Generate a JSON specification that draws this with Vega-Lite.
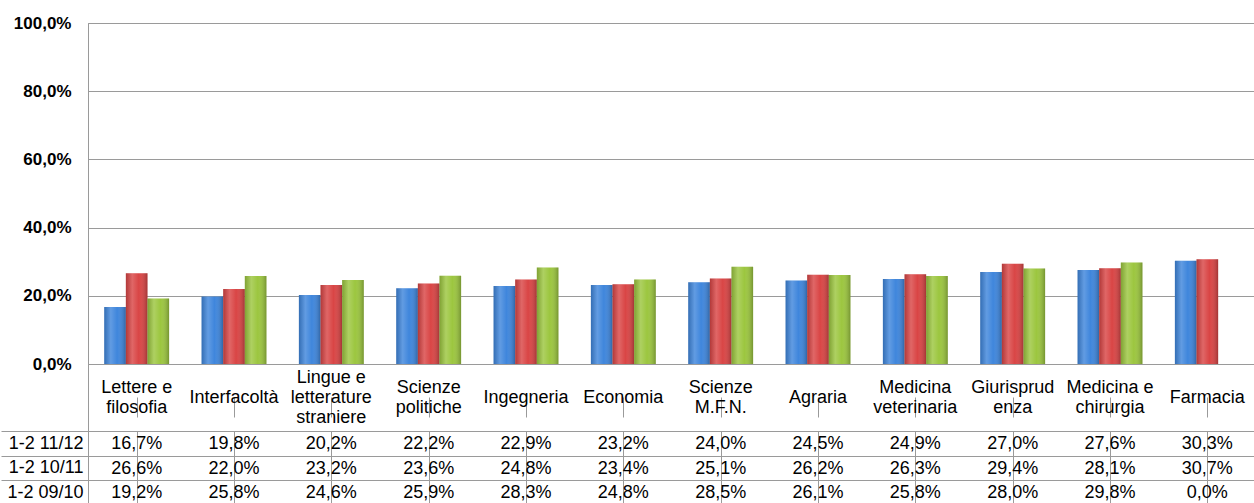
{
  "$schema": "https://vega.github.io/schema/vega-lite/v6.json",
  "padding": {"left": 0, "top": 13, "right": 0, "bottom": 0},
  "background": "white",
  "spacing": 0,
  "bounds": "flush",
  "datasets": {
    "vals": [
      {"cat": "Lettere e filosofia", "series": "1-2 11/12", "value": 0.167},
      {"cat": "Lettere e filosofia", "series": "1-2 10/11", "value": 0.266},
      {"cat": "Lettere e filosofia", "series": "1-2 09/10", "value": 0.192},
      {"cat": "Interfacoltà", "series": "1-2 11/12", "value": 0.198},
      {"cat": "Interfacoltà", "series": "1-2 10/11", "value": 0.220},
      {"cat": "Interfacoltà", "series": "1-2 09/10", "value": 0.258},
      {"cat": "Lingue e letterature straniere", "series": "1-2 11/12", "value": 0.202},
      {"cat": "Lingue e letterature straniere", "series": "1-2 10/11", "value": 0.232},
      {"cat": "Lingue e letterature straniere", "series": "1-2 09/10", "value": 0.246},
      {"cat": "Scienze politiche", "series": "1-2 11/12", "value": 0.222},
      {"cat": "Scienze politiche", "series": "1-2 10/11", "value": 0.236},
      {"cat": "Scienze politiche", "series": "1-2 09/10", "value": 0.259},
      {"cat": "Ingegneria", "series": "1-2 11/12", "value": 0.229},
      {"cat": "Ingegneria", "series": "1-2 10/11", "value": 0.248},
      {"cat": "Ingegneria", "series": "1-2 09/10", "value": 0.283},
      {"cat": "Economia", "series": "1-2 11/12", "value": 0.232},
      {"cat": "Economia", "series": "1-2 10/11", "value": 0.234},
      {"cat": "Economia", "series": "1-2 09/10", "value": 0.248},
      {"cat": "Scienze M.F.N.", "series": "1-2 11/12", "value": 0.240},
      {"cat": "Scienze M.F.N.", "series": "1-2 10/11", "value": 0.251},
      {"cat": "Scienze M.F.N.", "series": "1-2 09/10", "value": 0.285},
      {"cat": "Agraria", "series": "1-2 11/12", "value": 0.245},
      {"cat": "Agraria", "series": "1-2 10/11", "value": 0.262},
      {"cat": "Agraria", "series": "1-2 09/10", "value": 0.261},
      {"cat": "Medicina veterinaria", "series": "1-2 11/12", "value": 0.249},
      {"cat": "Medicina veterinaria", "series": "1-2 10/11", "value": 0.263},
      {"cat": "Medicina veterinaria", "series": "1-2 09/10", "value": 0.258},
      {"cat": "Giurisprudenza", "series": "1-2 11/12", "value": 0.270},
      {"cat": "Giurisprudenza", "series": "1-2 10/11", "value": 0.294},
      {"cat": "Giurisprudenza", "series": "1-2 09/10", "value": 0.280},
      {"cat": "Medicina e chirurgia", "series": "1-2 11/12", "value": 0.276},
      {"cat": "Medicina e chirurgia", "series": "1-2 10/11", "value": 0.281},
      {"cat": "Medicina e chirurgia", "series": "1-2 09/10", "value": 0.298},
      {"cat": "Farmacia", "series": "1-2 11/12", "value": 0.303},
      {"cat": "Farmacia", "series": "1-2 10/11", "value": 0.307},
      {"cat": "Farmacia", "series": "1-2 09/10", "value": 0.0}
    ],
    "cats": [
      {"cat": "Lettere e filosofia", "label": "Lettere e\nfilosofia"},
      {"cat": "Interfacoltà", "label": "Interfacoltà"},
      {"cat": "Lingue e letterature straniere", "label": "Lingue e\nletterature\nstraniere"},
      {"cat": "Scienze politiche", "label": "Scienze\npolitiche"},
      {"cat": "Ingegneria", "label": "Ingegneria"},
      {"cat": "Economia", "label": "Economia"},
      {"cat": "Scienze M.F.N.", "label": "Scienze\nM.F.N."},
      {"cat": "Agraria", "label": "Agraria"},
      {"cat": "Medicina veterinaria", "label": "Medicina\nveterinaria"},
      {"cat": "Giurisprudenza", "label": "Giurisprud\nenza"},
      {"cat": "Medicina e chirurgia", "label": "Medicina e\nchirurgia"},
      {"cat": "Farmacia", "label": "Farmacia"}
    ]
  },
  "vconcat": [
    {
      "width": 1168,
      "height": 341,
      "data": {"name": "vals"},
      "encoding": {
        "x": {"field": "cat", "type": "nominal", "sort": null,
              "scale": {"paddingInner": 0, "paddingOuter": 0}, "axis": null},
        "xOffset": {"field": "series", "type": "nominal",
                    "scale": {"domain": ["1-2 11/12", "1-2 10/11", "1-2 09/10"], "paddingInner": 0, "paddingOuter": 0.75}},
        "y": {"field": "value", "type": "quantitative",
              "scale": {"domain": [0, 1], "nice": false},
              "axis": {"title": null, "values": [0, 0.2, 0.4, 0.6, 0.8, 1], "format": ".1%",
                       "labelFont": "Liberation Sans", "labelFontWeight": "bold", "labelFontSize": 17,
                       "labelColor": "#000000", "ticks": false, "labelPadding": 17,
                       "domainColor": "#9a9a9a", "gridColor": "#9a9a9a", "gridOpacity": 1}}
      },
      "layer": [
        {
          "mark": {"type": "bar"},
          "encoding": {
            "color": {"field": "series", "type": "nominal", "legend": null,
                      "scale": {"domain": ["1-2 11/12", "1-2 10/11", "1-2 09/10"],
                                "range": ["#3f86dc", "#d94545", "#9cc63f"]}}
          }
        },
        {
          "mark": {"type": "bar",
                   "fill": {"gradient": "linear", "x1": 0, "y1": 0, "x2": 1, "y2": 0,
                            "stops": [
                              {"offset": 0, "color": "rgba(0,0,0,0.18)"},
                              {"offset": 0.3, "color": "rgba(255,255,255,0.18)"},
                              {"offset": 0.6, "color": "rgba(255,255,255,0.0)"},
                              {"offset": 1, "color": "rgba(0,0,0,0.25)"}
                            ]}}
        }
      ]
    },
    {
      "width": 1168,
      "height": 67,
      "data": {"name": "cats"},
      "transform": [{"calculate": "length(split(datum.label, '\\n'))", "as": "nl"}],
      "mark": {"type": "text", "lineBreak": "\n", "font": "Liberation Sans", "fontSize": 18,
               "lineHeight": 20, "color": "#000000", "baseline": "middle", "align": "center"},
      "encoding": {
        "x": {"field": "cat", "type": "nominal", "sort": null,
              "scale": {"paddingInner": 0, "paddingOuter": 0},
              "axis": {"title": null, "labels": false, "ticks": false, "domain": false,
                       "grid": true, "bandPosition": 0, "gridColor": "#9a9a9a", "gridOpacity": 1}},
        "y": {"field": "nl", "type": "quantitative",
              "scale": {"domain": [1, 3], "range": [34, 14]}, "axis": null},
        "text": {"field": "label", "type": "nominal"}
      }
    },
    {
      "width": 1168,
      "height": 73.5,
      "data": {"name": "vals"},
      "mark": {"type": "text", "font": "Liberation Sans", "fontSize": 18, "color": "#000000",
               "baseline": "middle", "align": "center", "dy": 1},
      "encoding": {
        "x": {"field": "cat", "type": "nominal", "sort": null,
              "scale": {"paddingInner": 0, "paddingOuter": 0},
              "axis": {"title": null, "labels": false, "ticks": false, "domain": false,
                       "grid": true, "bandPosition": 0, "gridColor": "#9a9a9a", "gridOpacity": 1}},
        "y": {"field": "series", "type": "nominal",
              "scale": {"domain": ["1-2 11/12", "1-2 10/11", "1-2 09/10"], "paddingInner": 0, "paddingOuter": 0},
              "axis": {"title": null, "domain": false, "ticks": true, "tickBand": "extent", "tickSize": 87,
                       "tickColor": "#9a9a9a", "labelPadding": -82, "labelFont": "Liberation Sans",
                       "labelFontSize": 18, "labelColor": "#000000",
                       "grid": true, "gridColor": "#9a9a9a", "gridOpacity": 1}},
        "text": {"field": "value", "type": "quantitative", "format": ".1%"}
      }
    }
  ],
  "config": {
    "view": {"stroke": "#9a9a9a", "strokeWidth": 1},
    "locale": {"number": {"decimal": ",", "thousands": ".", "grouping": [3], "currency": ["", " €"]}}
  }
}
